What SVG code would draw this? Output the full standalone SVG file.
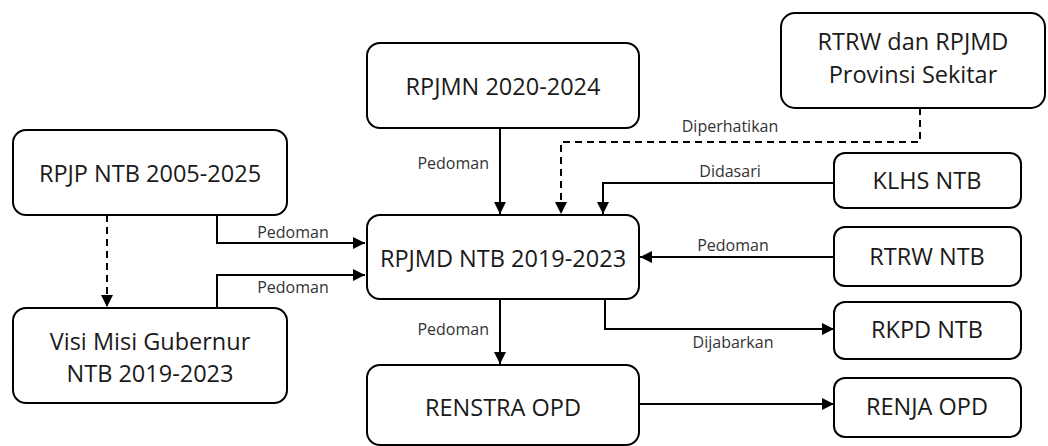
<svg xmlns="http://www.w3.org/2000/svg" width="1048" height="446" viewBox="0 0 1048 446">
<style>
.box{fill:#fff;stroke:#000;stroke-width:2}
.t{font-family:"Open Sans","Liberation Sans",sans-serif;font-size:23.5px;fill:#1a1a1a;text-anchor:middle}
.l{font-family:"Open Sans","Liberation Sans",sans-serif;font-size:16px;fill:#333}
.c{fill:none;stroke:#000;stroke-width:2}
.d{stroke-dasharray:7 5}
</style>
<defs>
<marker id="ah" markerUnits="userSpaceOnUse" markerWidth="14" markerHeight="14" viewBox="0 0 14 14" refX="13" refY="7" orient="auto">
<path d="M1,1 L13,7 L1,13 Z" fill="#000"/>
</marker>
</defs>
<rect width="1048" height="446" fill="#fff"/>
<g id="connectors">
<path class="c" d="M217,215 V243 H365" marker-end="url(#ah)"/>
<path class="c" d="M217,308 V275 H365" marker-end="url(#ah)"/>
<path class="c d" d="M107,215 V307" marker-end="url(#ah)"/>
<path class="c" d="M500,128 V214" marker-end="url(#ah)"/>
<path class="c d" d="M920,108 V142 H561 V214" marker-end="url(#ah)"/>
<path class="c" d="M834,183 H603 V214" marker-end="url(#ah)"/>
<path class="c" d="M834,257 H640" marker-end="url(#ah)"/>
<path class="c" d="M500,299 V364" marker-end="url(#ah)"/>
<path class="c" d="M605,299 V329 H834" marker-end="url(#ah)"/>
<path class="c" d="M639,404 H834" marker-end="url(#ah)"/>
<text class="l" x="293" y="238" text-anchor="middle">Pedoman</text>
<text class="l" x="293" y="293" text-anchor="middle">Pedoman</text>
<text class="l" x="489" y="169" text-anchor="end">Pedoman</text>
<text class="l" x="730" y="132" text-anchor="middle">Diperhatikan</text>
<text class="l" x="730" y="177" text-anchor="middle">Didasari</text>
<text class="l" x="733" y="251" text-anchor="middle">Pedoman</text>
<text class="l" x="733" y="348" text-anchor="middle">Dijabarkan</text>
<text class="l" x="489" y="335" text-anchor="end">Pedoman</text>
</g>
<g id="rpjp"><rect class="box" x="13" y="130" width="274" height="85" rx="13"/><text class="t" x="150" y="182">RPJP NTB 2005-2025</text></g>
<g id="visi"><rect class="box" x="13" y="308" width="274" height="95" rx="13"/><text class="t" x="150" y="350">Visi Misi Gubernur</text><text class="t" x="150" y="382">NTB 2019-2023</text></g>
<g id="rpjmn"><rect class="box" x="367" y="43" width="272" height="85" rx="13"/><text class="t" x="503" y="95">RPJMN 2020-2024</text></g>
<g id="rtrw-rpjmd"><rect class="box" x="781" y="13" width="264" height="95" rx="14"/><text class="t" x="913" y="50">RTRW dan RPJMD</text><text class="t" x="913" y="83">Provinsi Sekitar</text></g>
<g id="klhs"><rect class="box" x="834" y="153" width="187" height="55" rx="11"/><text class="t" x="927" y="189">KLHS NTB</text></g>
<g id="rpjmd"><rect class="box" x="367" y="215" width="272" height="84" rx="13"/><text class="t" x="503" y="267">RPJMD NTB 2019-2023</text></g>
<g id="rtrw"><rect class="box" x="834" y="227" width="187" height="59" rx="11"/><text class="t" x="927" y="265">RTRW NTB</text></g>
<g id="rkpd"><rect class="box" x="834" y="302" width="187" height="57" rx="11"/><text class="t" x="927" y="338">RKPD NTB</text></g>
<g id="renstra"><rect class="box" x="367" y="365" width="272" height="80" rx="13"/><text class="t" x="503" y="416">RENSTRA OPD</text></g>
<g id="renja"><rect class="box" x="834" y="378" width="187" height="59" rx="11"/><text class="t" x="927" y="415">RENJA OPD</text></g>
</svg>
